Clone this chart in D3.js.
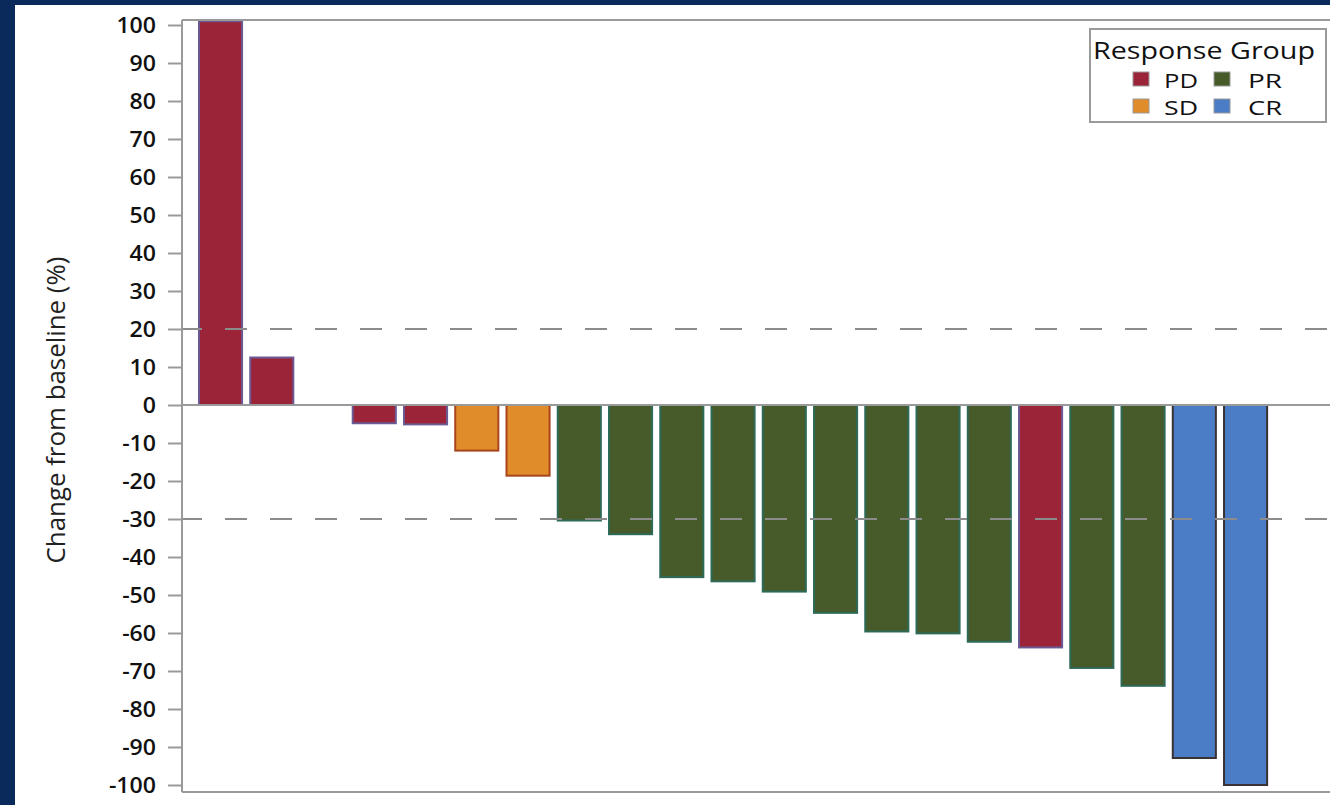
<!DOCTYPE html>
<html>
<head>
<meta charset="utf-8">
<script src="https://cdn.jsdelivr.net/npm/d3@7/dist/d3.min.js"></script>
<style>
  html, body { margin: 0; padding: 0; background: #0b2a5c; }
  svg { display: block; }
  text { font-family: "Open Sans", "Liberation Sans", sans-serif; }
</style>
</head>
<body>
<svg id="chart" width="1330" height="805"></svg>
<script>
// ---- data ----
const patients = ["P01","P02","P03","P04","P05","P06","P07","P08","P09","P10","P11",
                  "P12","P13","P14","P15","P16","P17","P18","P19","P20","P21"];
const changes = [101, 12.5, null, -4.8, -5.1, -12.0, -18.6, -30.4, -34.0, -45.3, -46.4,
                 -49.1, -54.7, -59.6, -60.1, -62.3, -63.8, -69.2, -73.9, -92.9, -100];
const groups = ["PD","PD",null,"PD","PD","SD","SD","PR","PR","PR","PR",
                "PR","PR","PR","PR","PR","PD","PR","PR","CR","CR"];
const groupNames = ["PD","SD","PR","CR"];
const groupFill = ["#9b2438","#e08c2b","#475a29","#4a7dc5"];
const groupStroke = ["#6b5a94","#a8451c","#2e6a58","#3a3232"];
const yTicks = [100,90,80,70,60,50,40,30,20,10,0,-10,-20,-30,-40,-50,-60,-70,-80,-90,-100];
const refLines = [20, -30];
const yLabel = "Change from baseline (%)";
const legendTitle = "Response Group";

(function () {
const data = patients.map((p, i) => ({ id: p, value: changes[i], group: groups[i] }));

// ---- layout ----
const svg = d3.select("#chart");
const W = 1330, H = 805;
const pLeft = 182, pTop = 20, pBottom = 792, pRight = 1340;

svg.append("rect").attr("x", 15).attr("y", 5).attr("width", W).attr("height", H)
  .attr("fill", "#ffffff");

const y = d3.scaleLinear().domain([-100, 100]).range([785, 25]);
const x = d3.scaleBand().domain(patients).range([194.9, 1271.2])
  .paddingInner(0.12).paddingOuter(0.06);
const color = d3.scaleOrdinal().domain(groupNames).range(groupFill);
const outline = d3.scaleOrdinal().domain(groupNames).range(groupStroke);

const defs = svg.append("defs");
defs.append("clipPath").attr("id", "plotclip").append("rect")
  .attr("x", pLeft).attr("y", pTop).attr("width", pRight - pLeft).attr("height", pBottom - pTop);

// bars
svg.append("g").attr("clip-path", "url(#plotclip)")
  .selectAll("rect").data(data.filter(d => d.value !== null)).join("rect")
  .attr("x", d => x(d.id) + 1)
  .attr("width", x.bandwidth() - 2)
  .attr("y", d => Math.min(y(d.value), y(0)))
  .attr("height", d => Math.abs(y(d.value) - y(0)))
  .attr("fill", d => color(d.group))
  .attr("stroke", d => outline(d.group))
  .attr("stroke-width", 2);

// reference dashed lines
svg.append("g").selectAll("line").data(refLines).join("line")
  .attr("x1", pLeft).attr("x2", pRight)
  .attr("y1", d => y(d)).attr("y2", d => y(d))
  .attr("stroke", "#8c8c8c").attr("stroke-width", 2.2)
  .attr("stroke-dasharray", "22,23").attr("stroke-dashoffset", 2);

// zero line
svg.append("line").attr("x1", pLeft).attr("x2", pRight)
  .attr("y1", y(0)).attr("y2", y(0))
  .attr("stroke", "#9a9a9a").attr("stroke-width", 2);

// frame
const frame = svg.append("g").attr("stroke", "#9a9a9a").attr("stroke-width", 2).attr("fill", "none");
frame.append("line").attr("x1", pLeft).attr("x2", pRight).attr("y1", pTop).attr("y2", pTop);
frame.append("line").attr("x1", pLeft).attr("x2", pRight).attr("y1", pBottom).attr("y2", pBottom);
frame.append("line").attr("x1", pLeft).attr("x2", pLeft).attr("y1", pTop).attr("y2", pBottom);

// y axis
const yAxis = d3.axisLeft(y).tickValues(yTicks).tickSize(14).tickPadding(12)
  .tickFormat(d => d < 0 ? "-" + Math.abs(d) : String(d));
const ag = svg.append("g").attr("transform", `translate(${pLeft},0)`).call(yAxis);
ag.select(".domain").remove();
ag.selectAll(".tick line").attr("stroke", "#9a9a9a").attr("stroke-width", 2);
ag.selectAll(".tick text").attr("font-size", 22).attr("fill", "#111")
  .attr("font-weight", 600)
  .attr("font-family", "'Open Sans', sans-serif")
  .each(function () {
    const l = this.getComputedTextLength();
    d3.select(this).attr("textLength", l * 1.05).attr("lengthAdjust", "spacingAndGlyphs");
  });

// y label
const yl = svg.append("text")
  .attr("transform", `translate(65,410) rotate(-90)`)
  .attr("text-anchor", "middle")
  .attr("font-size", 25).attr("fill", "#222")
  .text(yLabel);
yl.attr("textLength", 307).attr("lengthAdjust", "spacingAndGlyphs");

// legend
const lg = svg.append("g");
lg.append("rect").attr("x", 1090).attr("y", 29).attr("width", 236).attr("height", 93)
  .attr("fill", "#ffffff").attr("stroke", "#9a9a9a").attr("stroke-width", 2);
lg.append("text").attr("x", 1093).attr("y", 59).attr("font-size", 24).attr("fill", "#111")
  .attr("font-weight", 500)
  .text(legendTitle).attr("textLength", 222).attr("lengthAdjust", "spacingAndGlyphs");

const legendItems = [
  { g: "PD", sx: 1133, tx: 1164, sy: 72, ty: 88 },
  { g: "PR", sx: 1214, tx: 1248, sy: 72, ty: 88 },
  { g: "SD", sx: 1133, tx: 1164, sy: 99, ty: 115 },
  { g: "CR", sx: 1214, tx: 1248, sy: 99, ty: 115 }
];
legendItems.forEach(it => {
  lg.append("rect").attr("x", it.sx).attr("y", it.sy).attr("width", 16).attr("height", 14)
    .attr("fill", color(it.g)).attr("stroke", "#9a9a9a").attr("stroke-width", 1);
  const t = lg.append("text").attr("x", it.tx).attr("y", it.ty).attr("font-size", 19.5)
    .attr("font-weight", 500).attr("fill", "#111").text(it.g);
  t.attr("textLength", 34).attr("lengthAdjust", "spacingAndGlyphs");
});
})();
</script>
</body>
</html>
